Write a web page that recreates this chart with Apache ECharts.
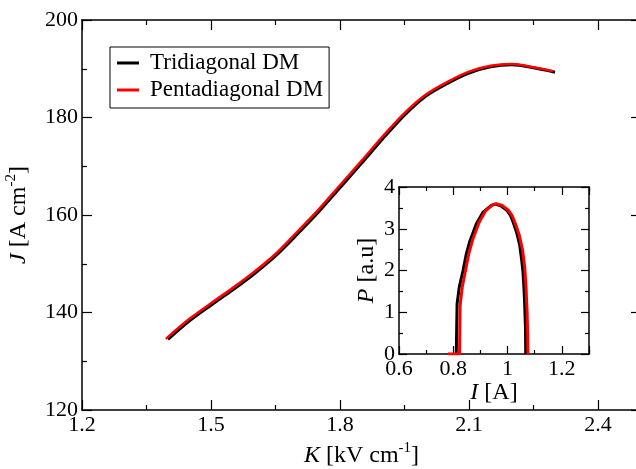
<!DOCTYPE html>
<html>
<head>
<meta charset="utf-8">
<script src="https://cdn.jsdelivr.net/npm/echarts@6/dist/echarts.min.js"></script>
<style>
  html, body { margin: 0; padding: 0; background: #fff; }
  #chart { width: 636px; height: 469px; }
</style>
</head>
<body>
<div id="chart"></div>
<script>
  // main plot: J vs K
  var kBlack = [1.40, 1.45, 1.50, 1.55, 1.60, 1.65, 1.70, 1.75, 1.80, 1.85, 1.90, 1.95, 2.00, 2.05, 2.10, 2.15, 2.20, 2.25, 2.30]
  var jBlack = [134.5, 138.3, 141.5, 144.6, 147.9, 151.6, 156.0, 160.6, 165.6, 170.6, 175.7, 180.5, 184.4, 187.0, 189.1, 190.4, 190.8, 190.2, 189.3]
  var kRed = [1.395, 1.45, 1.50, 1.55, 1.60, 1.65, 1.70, 1.75, 1.80, 1.85, 1.90, 1.95, 2.00, 2.05, 2.10, 2.15, 2.20, 2.25, 2.295]
  var jRed = [134.6, 138.7, 141.9, 145.0, 148.3, 152.0, 156.5, 161.1, 166.1, 171.1, 176.2, 180.9, 184.7, 187.3, 189.4, 190.6, 191.0, 190.3, 189.5]

  // inset: P vs I
  var iBlack = [0.811, 0.814, 0.822, 0.836, 0.848, 0.861, 0.885, 0.910, 0.940, 0.955, 0.975, 0.996, 1.010, 1.020, 1.033, 1.045, 1.052, 1.057, 1.061, 1.063, 1.066, 1.067]
  var pBlack = [0, 1.2, 1.6, 2.0, 2.4, 2.7, 3.12, 3.40, 3.56, 3.59, 3.55, 3.45, 3.33, 3.17, 2.92, 2.60, 2.25, 1.95, 1.5, 1.2, 0.6, 0]
  var iRed = [0.780, 0.823, 0.825, 0.833, 0.845, 0.857, 0.872, 0.895, 0.918, 0.945, 0.958, 0.980, 1.002, 1.018, 1.030, 1.043, 1.055, 1.063, 1.068, 1.072, 1.074, 1.075]
  var pRed = [0, 0, 1.15, 1.6, 2.0, 2.4, 2.75, 3.15, 3.42, 3.57, 3.60, 3.56, 3.45, 3.30, 3.10, 2.85, 2.50, 2.10, 1.6, 1.0, 0.5, 0]

  var legendNames = ['Tridiagonal DM', 'Pentadiagonal DM']
  var mainXTicks = { min: 1.2, max: 2.5, step: 0.3 }
  var mainYTicks = { min: 120, max: 200, step: 20 }
  var insetXTicks = { min: 0.6, max: 1.3, step: 0.2 }
  var insetYTicks = { min: 0, max: 4, step: 1 }

  var FONT = 'Liberation Serif'

  function zip (a, b) {
    return a.map(function (v, i) { return [v, b[i]] })
  }

  var richText = {
    i: { fontFamily: FONT, fontSize: 24, fontStyle: 'italic', color: '#000' },
    n: { fontFamily: FONT, fontSize: 24, color: '#000' },
    sup: { fontFamily: FONT, fontSize: 15, color: '#000', verticalAlign: 'top', lineHeight: 30 }
  }

  // one axis of a framed box; labels only on bottom / left
  function axis (grid, pos, t, withLabels, tickLen, extra) {
    var a = {
      type: 'value',
      gridIndex: grid,
      position: pos,
      min: t.min,
      max: t.max,
      interval: t.step,
      axisLine: { show: true, onZero: false, lineStyle: { color: '#000', width: 1.5 } },
      axisTick: { show: true, inside: true, length: tickLen, lineStyle: { color: '#000', width: 1.2 } },
      minorTick: { show: true, splitNumber: 2, length: tickLen / 2, lineStyle: { color: '#000', width: 1.2 } },
      splitLine: { show: false },
      axisLabel: {
        show: withLabels,
        showMaxLabel: t.max === 4 || t.max === 200,
        color: '#000',
        fontFamily: FONT,
        fontSize: 22,
        margin: 4
      }
    }
    return Object.assign(a, extra || {})
  }

  var option = {
    backgroundColor: '#fff',
    animation: false,
    grid: [
      { left: 82, top: 20, width: 559, height: 390, outerBoundsMode: 'none', containLabel: false },
      { left: 399, top: 187, width: 190, height: 167, outerBoundsMode: 'none', containLabel: false, show: true, backgroundColor: '#fff', borderWidth: 0 }
    ],
    legend: {
      data: legendNames,
      orient: 'vertical',
      left: 110,
      top: 47,
      padding: [3, 6, 5, 7],
      itemGap: 1,
      itemWidth: 22,
      itemHeight: 3,
      icon: 'rect',
      borderColor: '#000',
      borderWidth: 1,
      textStyle: { fontFamily: FONT, fontSize: 23, color: '#000', lineHeight: 26, padding: [0, 0, 0, 6] }
    },
    xAxis: [
      axis(0, 'bottom', mainXTicks, true, 10, {
        name: '{i|K}{n| [kV cm}{sup|-1}{n|]}',
        nameLocation: 'middle',
        nameGap: 30,
        nameTextStyle: { rich: richText }
      }),
      axis(0, 'top', mainXTicks, false, 10),
      axis(1, 'bottom', insetXTicks, true, 8, {
        name: '{i|I}{n| [A]}',
        nameLocation: 'middle',
        nameGap: 26,
        nameTextStyle: { rich: richText }
      }),
      axis(1, 'top', insetXTicks, false, 8)
    ],
    yAxis: [
      axis(0, 'left', mainYTicks, true, 10, {
        name: '{i|J}{n| [A cm}{sup|-2}{n|]}',
        nameLocation: 'middle',
        nameGap: 48,
        nameTextStyle: { rich: richText }
      }),
      axis(0, 'right', mainYTicks, false, 10),
      axis(1, 'left', insetYTicks, true, 8, {
        name: '{i|P}{n| [a.u]}',
        nameLocation: 'middle',
        nameGap: 20,
        nameTextStyle: { rich: richText }
      }),
      axis(1, 'right', insetYTicks, false, 8)
    ],
    series: [
      {
        name: legendNames[0],
        type: 'line',
        xAxisIndex: 0,
        yAxisIndex: 0,
        data: zip(kBlack, jBlack),
        symbol: 'none',
        smooth: 0.3,
        itemStyle: { color: '#000' },
        lineStyle: { color: '#000', width: 3 }
      },
      {
        name: legendNames[1],
        type: 'line',
        xAxisIndex: 0,
        yAxisIndex: 0,
        data: zip(kRed, jRed),
        symbol: 'none',
        smooth: 0.3,
        itemStyle: { color: '#f00' },
        lineStyle: { color: '#f00', width: 2.5 }
      },
      {
        name: 'inset-black',
        type: 'line',
        xAxisIndex: 2,
        yAxisIndex: 2,
        data: zip(iBlack, pBlack),
        symbol: 'none',
        lineStyle: { color: '#000', width: 3 }
      },
      {
        name: 'inset-red',
        type: 'line',
        xAxisIndex: 2,
        yAxisIndex: 2,
        data: zip(iRed, pRed),
        symbol: 'none',
        lineStyle: { color: '#f00', width: 3 }
      }
    ]
  }

  var chart = echarts.init(document.getElementById('chart'))
  chart.setOption(option)
</script>
</body>
</html>
